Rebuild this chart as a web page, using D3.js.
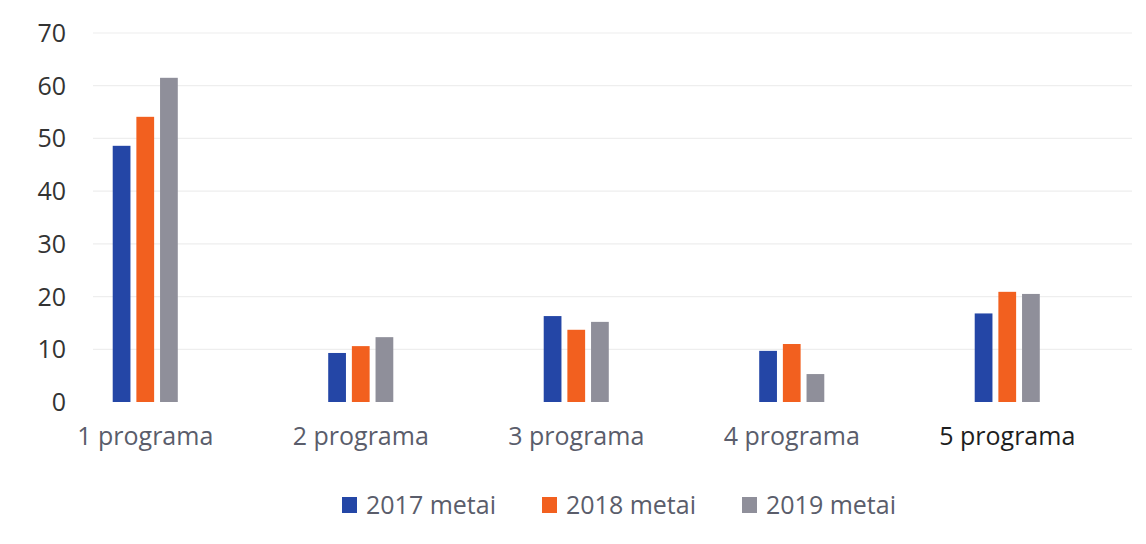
<!DOCTYPE html>
<html><head><meta charset="utf-8">
<script src="https://cdn.jsdelivr.net/npm/d3@7"></script>
<style>body{margin:0;background:#fff;} svg{display:block;}</style>
</head><body>
<svg id="c" width="1146" height="544"></svg>
<script>
const categories = ["1 programa","2 programa","3 programa","4 programa","5 programa"];
const seriesNames = ["2017 metai","2018 metai","2019 metai"];
const v2017 = [48.6, 9.3, 16.3, 9.7, 16.8];
const v2018 = [54.1, 10.6, 13.7, 11.0, 20.9];
const v2019 = [61.5, 12.3, 15.2, 5.3, 20.5];
const yTicks = [0,10,20,30,40,50,60,70];
const colors = ["#2446a6","#f2601f","#8f8f9a"];

const series = [v2017, v2018, v2019];
const svg = d3.select("#c");
const font = "'Open Sans', 'Noto Sans', sans-serif";

const y = d3.scaleLinear().domain([0,70]).range([402,33]);
const x0 = d3.scaleBand().domain(categories).range([37.5,1115]).paddingInner(0.698).paddingOuter(0.349);
const x1 = d3.scaleBand().domain(seriesNames).range([0,x0.bandwidth()]).paddingInner(0.25);

// gridlines
svg.append("g").selectAll("line").data(yTicks.filter(d=>d>0)).join("line")
  .attr("x1",93).attr("x2",1132)
  .attr("y1",d=>y(d)).attr("y2",d=>y(d))
  .attr("stroke","#eeeeee").attr("stroke-width",1.2);

// y axis
const yAxis = d3.axisLeft(y).tickValues(yTicks).tickSize(0).tickPadding(0);
const ya = svg.append("g").attr("transform","translate(66,0)").call(yAxis);
ya.select(".domain").remove();
ya.selectAll("text").attr("font-family",font).attr("font-size",25).attr("fill","#333333").attr("dy","0.34em");

// bars
const groups = svg.append("g").selectAll("g").data(categories).join("g")
  .attr("transform",c=>`translate(${x0(c)},0)`);
groups.selectAll("rect").data((c,i)=>series.map((s,j)=>({name:seriesNames[j],v:s[i],j}))).join("rect")
  .attr("x",d=>x1(d.name)).attr("width",x1.bandwidth())
  .attr("y",d=>y(d.v)).attr("height",d=>y(0)-y(d.v))
  .attr("fill",d=>colors[d.j]);

// x axis labels
const xAxis = d3.axisBottom(x0).tickSize(0).tickPadding(0);
const xa = svg.append("g").attr("transform","translate(0,445)").call(xAxis);
xa.select(".domain").remove();
xa.selectAll("text").attr("font-family",font).attr("font-size",25).attr("dy",0)
  .attr("fill",(d,i)=>i===4?"#1e1e1e":"#5a5d6b");

// legend
const legX = [342,542,742];
const leg = svg.append("g").selectAll("g").data(seriesNames).join("g")
  .attr("transform",(d,i)=>`translate(${legX[i]},505)`);
leg.append("rect").attr("x",0).attr("y",-8).attr("width",15).attr("height",16).attr("fill",(d,i)=>colors[i]);
leg.append("text").attr("x",24).attr("y",0).attr("dy","0.36em")
  .attr("font-family",font).attr("font-size",25).attr("fill","#5a5d6b").text(d=>d);
</script>
</body></html>
